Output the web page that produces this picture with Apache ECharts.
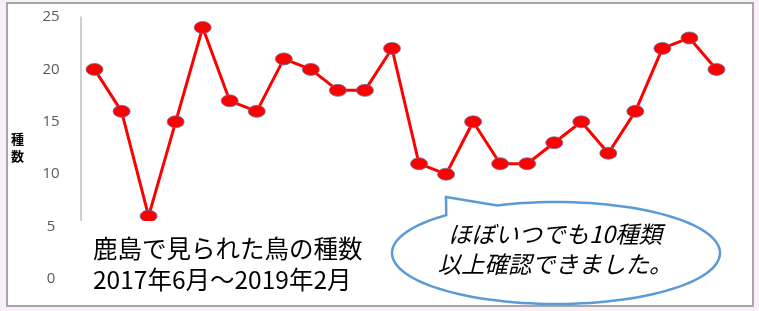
<!DOCTYPE html>
<html>
<head>
<meta charset="utf-8">
<script src="https://cdn.jsdelivr.net/npm/echarts@6/dist/echarts.min.js"></script>
<style>
    html, body { margin: 0; padding: 0; background: #fbeefb; }
    .wrap { position: relative; width: 759px; height: 311px; }
    .panel {
        position: absolute; left: 6px; top: 2px; width: 744px; height: 301px;
        background: #fff; border: 2px solid #a6a6a6;
    }
    #chart { position: absolute; left: 0; top: 0; width: 759px; height: 311px; }
</style>
</head>
<body>
<div class="wrap">
    <div class="panel"></div>
    <div id="chart"></div>
</div>
<script>
    // 調査回 (x軸ラベルは非表示)
    var surveys = ['1', '2', '3', '4', '5', '6', '7', '8', '9', '10', '11', '12',
                   '13', '14', '15', '16', '17', '18', '19', '20', '21', '22', '23', '24'];
    // 確認された種数
    var speciesCount = [20, 16, 6, 15, 24, 17, 16, 21, 20, 18, 18, 22,
                        11, 10, 15, 11, 11, 13, 15, 12, 16, 22, 23, 20];
    var yTicks = [0, 5, 10, 15, 20, 25];

    var titleLines = ['鹿島で見られた鳥の種数', '2017年6月～2019年2月'];
    var bubbleLines = ['ほぼいつでも10種類', '以上確認できました。'];

    // 吹き出しの輪郭 (楕円 + しっぽ)
    function bubblePoints(cx, cy, rx, ry, tip) {
        var pts = [];
        var t0 = -111, t1 = 228;
        for (var t = t0; t <= t1; t += 3) {
            var a = t * Math.PI / 180;
            pts.push([cx + rx * Math.cos(a), cy + ry * Math.sin(a)]);
        }
        pts.push(tip);
        return pts;
    }

    var myChart = echarts.init(document.getElementById('chart'));
    var option = {
        backgroundColor: 'transparent',
        animation: false,
        grid: {
            left: 81,
            right: 29,
            top: 17,
            bottom: 32
        },
        xAxis: {
            type: 'category',
            data: surveys,
            show: false
        },
        yAxis: {
            type: 'value',
            min: yTicks[0],
            max: yTicks[yTicks.length - 1],
            interval: 5,
            name: '種\n数',
            nameLocation: 'middle',
            nameRotate: 0,
            nameGap: 57,
            nameTextStyle: {
                color: '#000',
                fontSize: 13,
                fontWeight: 'bold',
                lineHeight: 17,
                fontFamily: 'Noto Sans CJK JP'
            },
            axisLine: {
                show: true,
                lineStyle: { color: '#bfbfbf', width: 1.5 }
            },
            axisTick: { show: false },
            splitLine: { show: false },
            axisLabel: {
                margin: 30,
                align: 'center',
                color: '#595959',
                fontSize: 15,
                fontFamily: 'Open Sans'
            }
        },
        series: [
            {
                name: '種数',
                type: 'line',
                data: speciesCount,
                symbol: 'circle',
                symbolSize: [17, 12],
                lineStyle: { color: '#ff0000', width: 3 },
                itemStyle: {
                    color: '#ff0000',
                    borderColor: '#6a6f9a',
                    borderWidth: 0.8
                },
                z: 3
            }
        ],
        graphic: [
            {
                type: 'rect',
                z: 50,
                shape: { x: 76, y: 221, width: 310, height: 80 },
                style: { fill: '#fff' }
            },
            {
                type: 'text',
                z: 51,
                left: 93,
                top: 233,
                style: {
                    text: titleLines.join('\n'),
                    fill: '#000',
                    fontSize: 24.5,
                    lineHeight: 31,
                    fontFamily: 'Noto Sans CJK JP'
                }
            },
            {
                type: 'polygon',
                z: 50,
                shape: { points: bubblePoints(556, 253, 164, 51, [446, 197]) },
                style: { fill: '#fff', stroke: '#5b9bd5', lineWidth: 2.5 }
            },
            {
                type: 'text',
                z: 51,
                x: 555,
                y: 249,
                style: {
                    text: bubbleLines.join('\n'),
                    fill: '#000',
                    fontSize: 23.5,
                    lineHeight: 30,
                    fontStyle: 'italic',
                    fontFamily: 'Noto Sans CJK JP',
                    align: 'center',
                    verticalAlign: 'middle'
                }
            }
        ]
    };
    myChart.setOption(option);
</script>
</body>
</html>
